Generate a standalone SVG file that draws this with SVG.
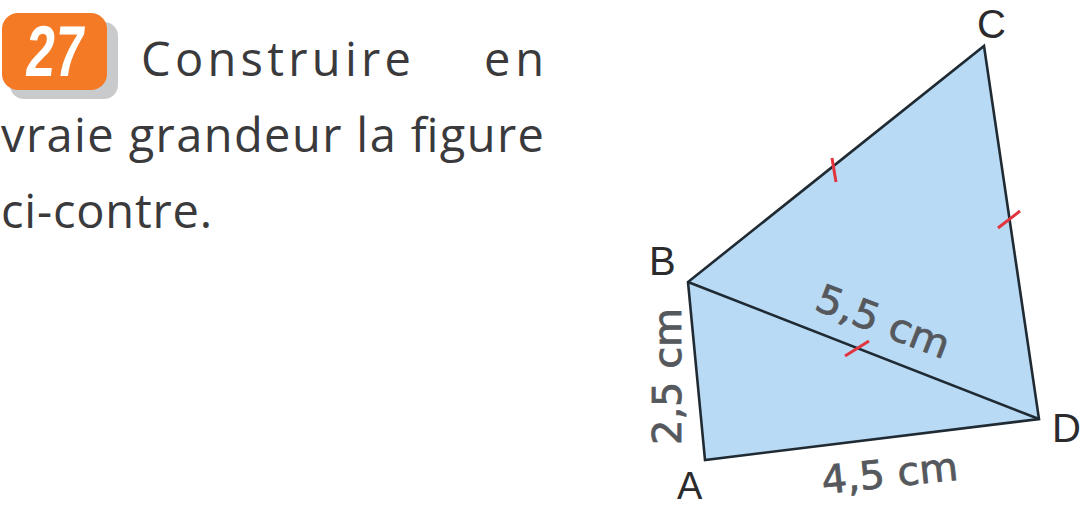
<svg xmlns="http://www.w3.org/2000/svg" width="1081" height="507" viewBox="0 0 1081 507">
<style>
.t{font-family:"Open Sans","Liberation Sans",Arial,sans-serif;font-size:47px;fill:#3a3a3c}
.p{font-family:"Liberation Sans",Arial,sans-serif;font-size:40px;fill:#2b2b2d}
.m{font-family:"DejaVu Sans","Liberation Sans",Arial,sans-serif;font-size:39px;fill:#55585c;stroke:#55585c;stroke-width:.8}
.s{fill:none;stroke:#1f2a33;stroke-width:2.6;stroke-linejoin:miter}
.k{fill:none;stroke:#e2343f;stroke-width:3}
</style>
<rect width="1081" height="507" fill="#fff"/>
<g id="badge">
<rect x="10" y="22" width="108" height="77" rx="14" fill="#c9cacb"/>
<rect x="2" y="13" width="105" height="77" rx="16" fill="#f47a25"/>
<text transform="translate(24 76) skewX(-6)" textLength="58" lengthAdjust="spacingAndGlyphs" style="font-family:'Liberation Sans',Arial,sans-serif;font-size:72px;font-weight:bold;fill:#fff">27</text>
</g>
<g id="statement">
<text class="t" x="141" y="76" textLength="270">Construire</text>
<text class="t" x="484" y="76" textLength="60">en</text>
<text class="t" x="1" y="152" textLength="543">vraie grandeur la figure</text>
<text class="t" x="1" y="228" textLength="211">ci-contre.</text>
</g>
<g id="quad"><path d="M705 460L688 282L984 46L1039 419Z" fill="#b9daf4"/></g>
<g id="connectors">
<path class="s" d="M705 460L688 282L984 46L1039 419Z"/>
<path class="s" d="M688 282L1039 419"/>
<path class="k" d="M832 158L836 182M998 228L1020 211M845 356L869 341"/>
</g>
<g id="labels">
<text class="p" x="649" y="275">B</text>
<text class="p" x="977" y="38">C</text>
<text class="p" x="1052" y="442">D</text>
<text class="p" x="677" y="499" style="font-size:38px">A</text>
<text class="m" transform="translate(813 309) rotate(21)" textLength="140" lengthAdjust="spacingAndGlyphs">5,5 cm</text>
<text class="m" transform="translate(823 494) rotate(-6)" textLength="137" lengthAdjust="spacingAndGlyphs">4,5 cm</text>
<text class="m" transform="translate(681 445) rotate(-90)" textLength="137" lengthAdjust="spacingAndGlyphs">2,5 cm</text>
</g>
</svg>
